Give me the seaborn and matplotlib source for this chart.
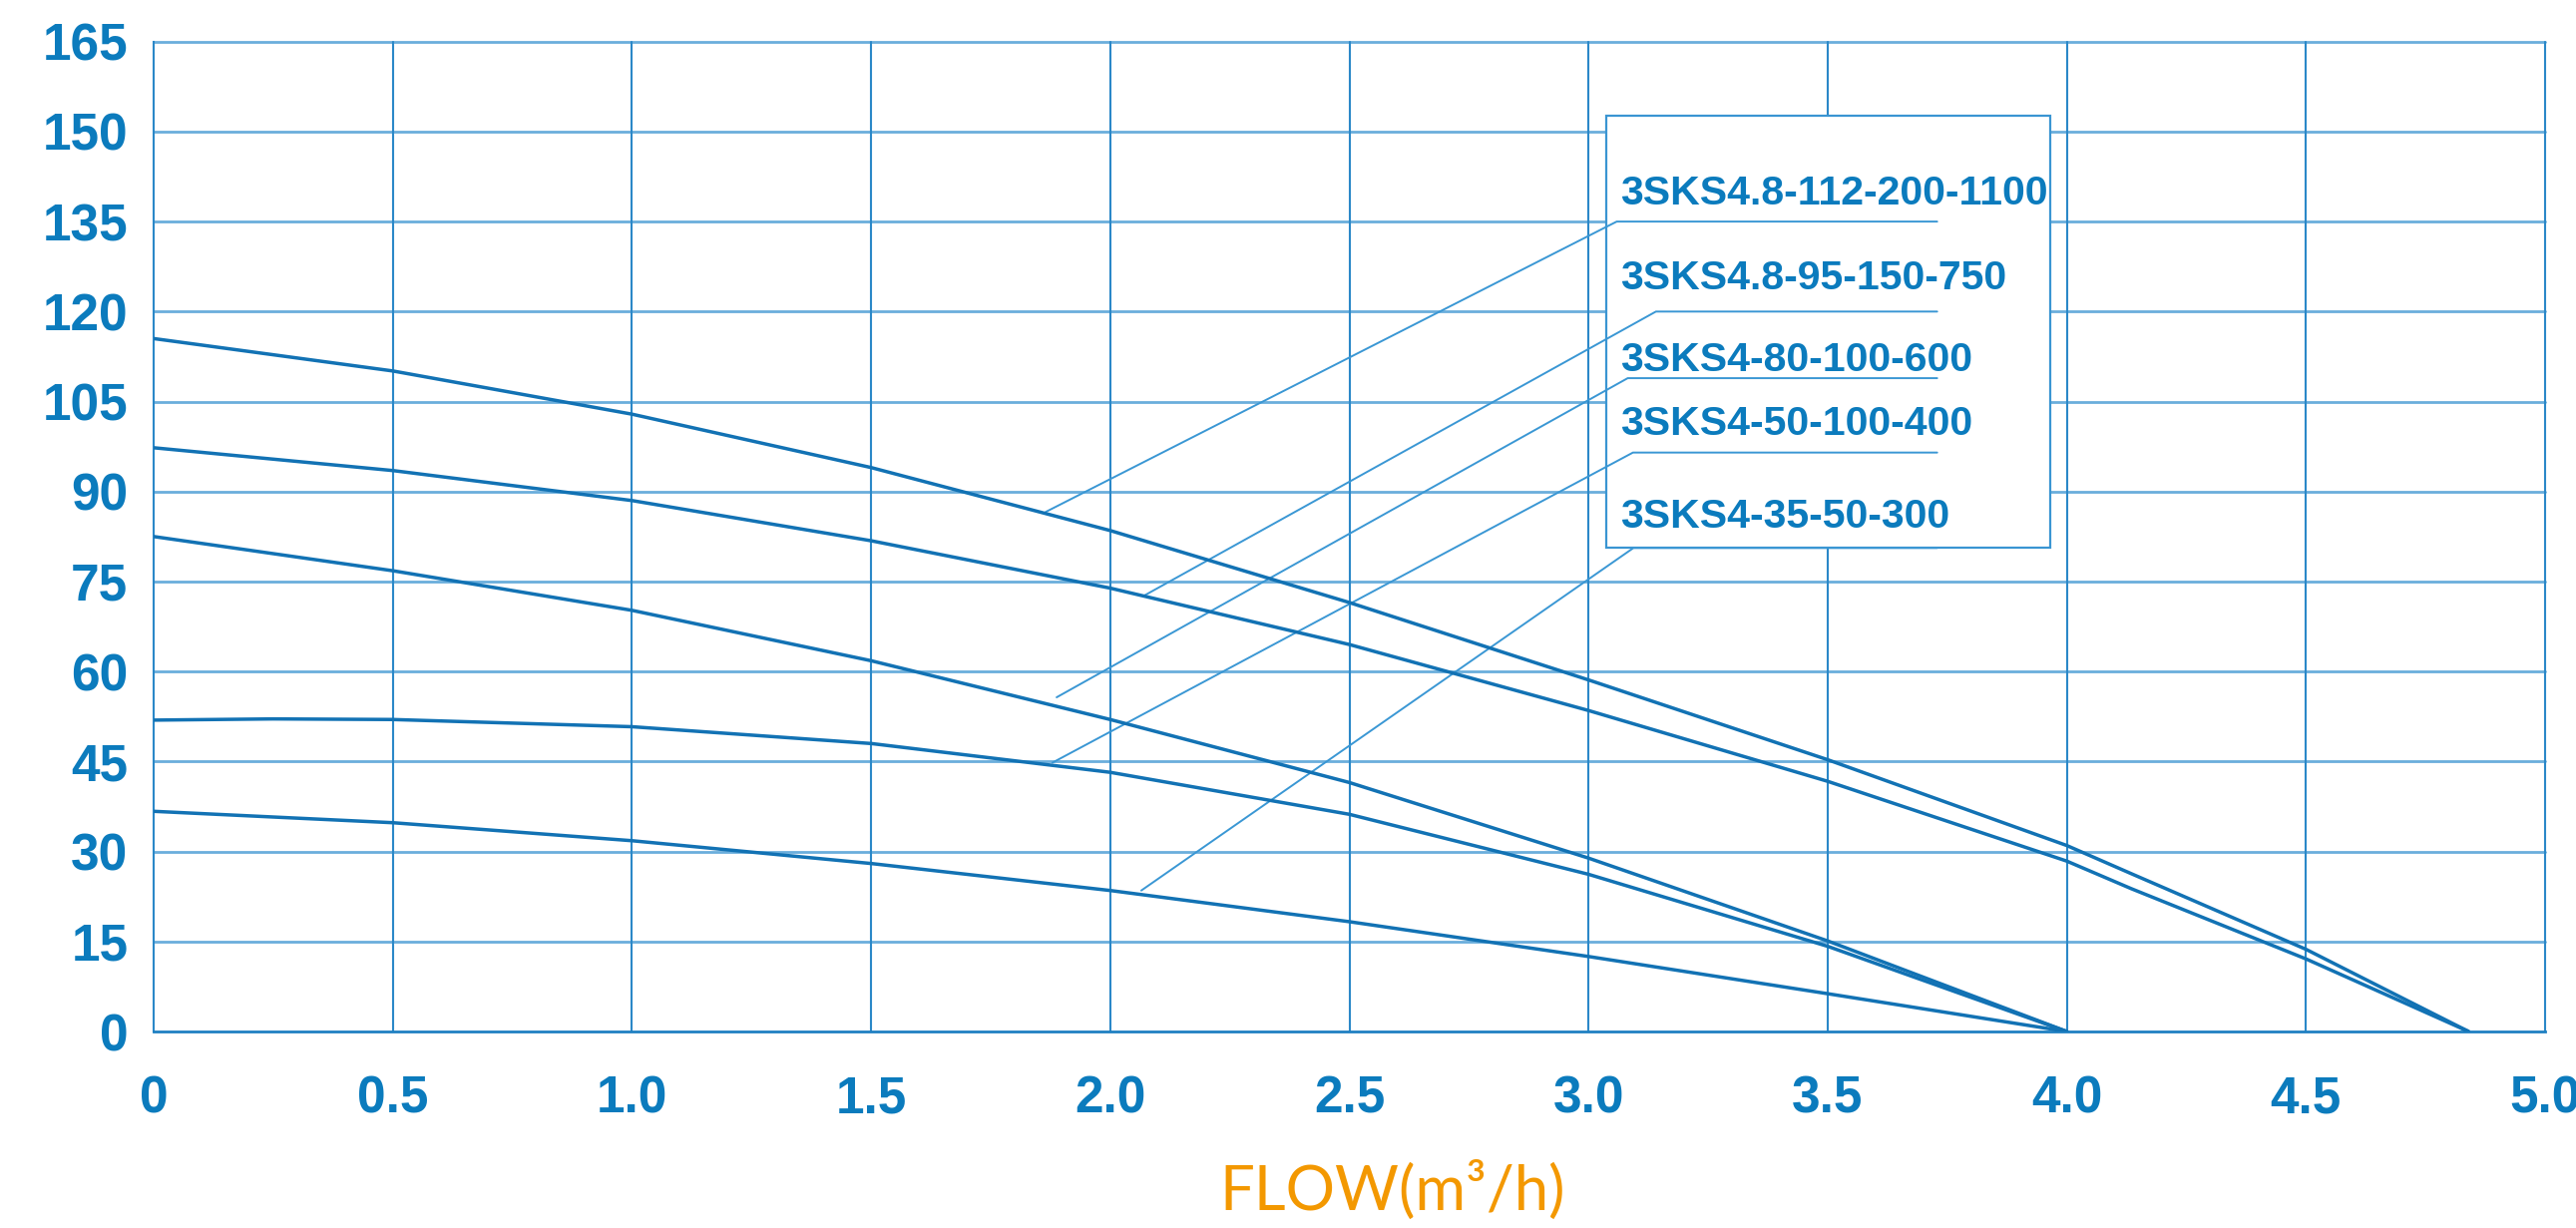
import numpy as np
import pandas as pd
import matplotlib
matplotlib.use("Agg")
import matplotlib.pyplot as plt
from matplotlib.patches import Rectangle
import seaborn as sns

# ---------------- data ----------------
models = ["3SKS4.8-112-200-1100", "3SKS4.8-95-150-750", "3SKS4-80-100-600",
          "3SKS4-50-100-400", "3SKS4-35-50-300"]

flow_1 = [0, 0.5, 1.0, 1.5, 2.0, 2.5, 3.0, 3.5, 4.0, 4.135, 4.5, 4.84]
head_1 = [115.5, 110.1, 102.9, 94.0, 83.5, 71.5, 58.6, 45.3, 31.0, 26.3, 13.7, 0]
flow_2 = [0, 0.5, 1.0, 1.5, 2.0, 2.5, 3.0, 3.5, 4.0, 4.135, 4.5, 4.84]
head_2 = [97.3, 93.5, 88.5, 81.8, 73.9, 64.5, 53.5, 41.7, 28.4, 23.8, 12.1, 0]
flow_3 = [0, 0.5, 1.0, 1.5, 2.0, 2.5, 3.0, 3.5, 4.0]
head_3 = [82.5, 76.8, 70.2, 61.8, 52.0, 41.5, 28.9, 15.1, 0]
flow_4 = [0, 0.25, 0.5, 1.0, 1.5, 2.0, 2.5, 3.0, 3.5, 4.0]
head_4 = [51.9, 52.1, 52.0, 50.8, 48.0, 43.2, 36.2, 26.2, 14.2, 0]
flow_5 = [0, 0.5, 1.0, 1.5, 2.0, 2.5, 3.0, 3.5, 4.0]
head_5 = [36.7, 34.8, 31.8, 28.0, 23.5, 18.3, 12.5, 6.3, 0]

# leader lines: point on curve -> elbow -> end of horizontal
leader_x0 = [1.865, 2.072, 1.888, 1.879, 2.065]
leader_y0 = [86.6, 72.7, 55.7, 44.8, 23.5]
leader_x1 = [3.059, 3.141, 3.082, 3.093, 3.094]
leader_y1 = [135.0, 120.0, 108.9, 96.5, 80.6]
leader_x2 = [3.729, 3.729, 3.729, 3.729, 3.729]
label_y = [137.9, 123.7, 110.0, 99.4, 83.9]

x_ticks = [0, 0.5, 1.0, 1.5, 2.0, 2.5, 3.0, 3.5, 4.0, 4.5, 5.0]
x_tick_labels = ["0", "0.5", "1.0", "1.5", "2.0", "2.5", "3.0", "3.5", "4.0", "4.5", "5.0"]
y_ticks = [0, 15, 30, 45, 60, 75, 90, 105, 120, 135, 150, 165]
x_label = "FLOW(m³/h)"

# ---------------- styling ----------------
TEXT_BLUE = "#0b7bbd"
CURVE_BLUE = "#1272b4"
HGRID = "#6aaedc"
VGRID = "#2b88c8"
LEADER = "#3a97d4"
ORANGE = "#f39800"

sns.set_theme(style="white")
plt.rcParams["font.family"] = ["Liberation Sans", "DejaVu Sans"]

fig = plt.figure(figsize=(25.82, 12.31), dpi=100)
ax = fig.add_axes([154 / 2582, 1 - 1034 / 1231, (2551 - 154) / 2582, (1034 - 41.7) / 1231])

frames = []
for name, fx, hy in zip(models, [flow_1, flow_2, flow_3, flow_4, flow_5],
                        [head_1, head_2, head_3, head_4, head_5]):
    frames.append(pd.DataFrame({"model": name, "flow": fx, "head": hy}))
df = pd.concat(frames, ignore_index=True)

sns.lineplot(data=df, x="flow", y="head", hue="model", palette=[CURVE_BLUE] * 5,
             legend=False, ax=ax, linewidth=2.5, zorder=5, estimator=None, sort=True)

ax.set_xlim(0, 5)
ax.set_ylim(0, 165)
ax.set_xticks(x_ticks)
ax.set_xticklabels(x_tick_labels)
ax.set_yticks(y_ticks)
ax.set_yticklabels([str(v) for v in y_ticks])

# grid
for v in y_ticks[1:]:
    ax.axhline(v, color=HGRID, lw=2.0, zorder=1, clip_on=False)
for v in x_ticks[1:]:
    ax.axvline(v, color=VGRID, lw=1.5, zorder=1, clip_on=False)

for s in ["top", "right"]:
    ax.spines[s].set_visible(False)
ax.spines["left"].set_color(VGRID)
ax.spines["left"].set_linewidth(1.5)
ax.spines["bottom"].set_color("#1f80c2")
ax.spines["bottom"].set_linewidth(2.0)

ax.tick_params(axis="x", length=24.5, width=1.1, color=VGRID, pad=7,
               labelsize=37, labelcolor=TEXT_BLUE)
ax.tick_params(axis="y", length=11.5, width=1.4, color=HGRID, pad=7,
               labelsize=37, labelcolor=TEXT_BLUE)
for lab in ax.get_xticklabels() + ax.get_yticklabels():
    lab.set_fontweight("bold")

ax.set_ylabel("")
ax.set_xlabel(x_label, fontsize=44.5, color=ORANGE, family=["Lato", "DejaVu Sans"])
ax.xaxis.label.set_va("baseline")
ax.xaxis.set_label_coords(0.518, -0.1804)

# legend box
box = Rectangle((3.037, 80.6), 3.965 - 3.037, 152.6 - 80.6, facecolor="white",
                edgecolor="#3a95d2", lw=1.6, zorder=3)
ax.add_patch(box)

for i, name in enumerate(models):
    ax.plot([leader_x0[i], leader_x1[i], leader_x2[i]],
            [leader_y0[i], leader_y1[i], leader_y1[i]],
            color=LEADER, lw=1.4, zorder=4)
    ax.text(3.066, label_y[i], name, fontsize=29.5, fontweight="bold",
            color=TEXT_BLUE, va="baseline", ha="left", zorder=6)

fig.savefig("out.png", dpi=100, facecolor="white")
